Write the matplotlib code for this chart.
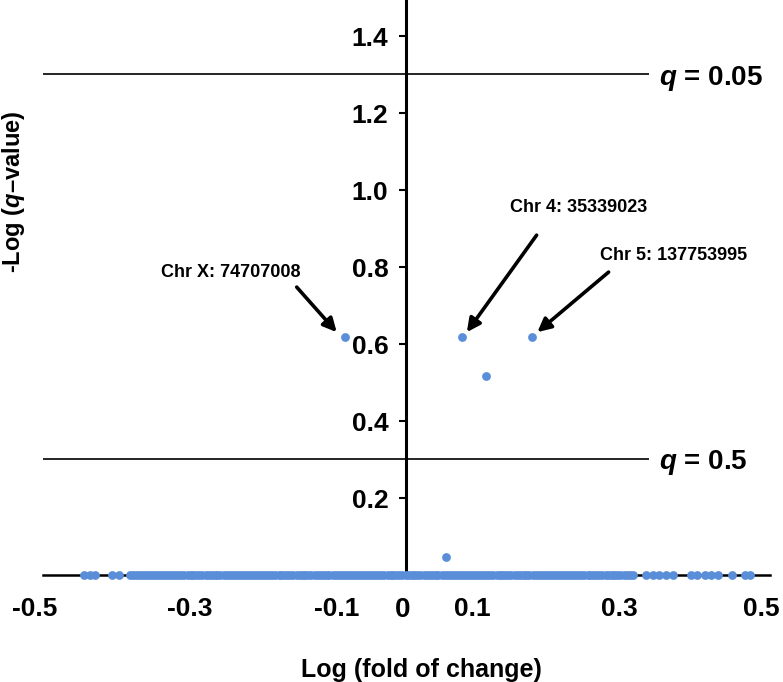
import matplotlib.pyplot as plt
import matplotlib.transforms as mtransforms
import numpy as np

plt.rcParams['font.family'] = ['Liberation Sans', 'DejaVu Sans']
plt.rcParams['mathtext.fontset'] = 'custom'
plt.rcParams['mathtext.it'] = 'Liberation Sans:bold:italic'
plt.rcParams['mathtext.rm'] = 'Liberation Sans:bold'

# points sitting on the baseline (-log q ~ 0)
base_x = [-0.444, -0.436, -0.428, -0.405, -0.396,
          -0.380, -0.372, -0.364, -0.356, -0.347, -0.339, -0.331, -0.322, -0.314,
          -0.306, -0.297, -0.289, -0.281, -0.272, -0.264, -0.256, -0.247, -0.239,
          -0.231, -0.222, -0.214, -0.206, -0.197, -0.189, -0.181, -0.172, -0.164,
          -0.156, -0.147, -0.139, -0.131, -0.122, -0.114, -0.106, -0.097, -0.089,
          -0.081, -0.072, -0.064, -0.056, -0.047, -0.039, -0.031, -0.022, -0.014,
          -0.006, 0.003, 0.011, 0.019, 0.028, 0.036, 0.044, 0.053, 0.061, 0.069,
          0.078, 0.086, 0.094, 0.103, 0.111, 0.119, 0.128, 0.136, 0.144, 0.153,
          0.161, 0.169, 0.178, 0.186, 0.194, 0.203, 0.211, 0.219, 0.228, 0.236,
          0.244, 0.253, 0.261, 0.269, 0.278, 0.286, 0.294, 0.303, 0.311,
          0.330, 0.339, 0.348, 0.357, 0.366,
          0.391, 0.400, 0.410, 0.419, 0.429,
          0.448, 0.466, 0.473,
          -0.376, -0.368, -0.360, -0.351, -0.343, -0.335, -0.326, -0.318, -0.310,
          -0.301, -0.293, -0.285, -0.276, -0.268, -0.260, -0.251, -0.243, -0.235,
          -0.226, -0.218, -0.210, -0.201, -0.193, -0.185, -0.176, -0.168, -0.160,
          -0.151, -0.143, -0.135, -0.126, -0.118, -0.110, -0.101, -0.093, -0.085,
          -0.076, -0.068, -0.060, -0.051, -0.043, -0.035, -0.026, -0.018, -0.010,
          -0.001, 0.007, 0.015, 0.024, 0.032, 0.040, 0.049, 0.057, 0.065, 0.074,
          0.082, 0.090, 0.099, 0.107, 0.115, 0.124, 0.132, 0.140, 0.149, 0.157,
          0.165, 0.174, 0.182, 0.190, 0.199, 0.207, 0.215, 0.224, 0.232, 0.240,
          0.249, 0.257, 0.265, 0.274, 0.282, 0.290, 0.299, 0.307]
base_y = [0.0] * len(base_x)

# points above the baseline
hit_x = [0.055, -0.084, 0.076, 0.109, 0.173]
hit_y = [0.047, 0.618, 0.618, 0.517, 0.618]

# thresholds
q_vals = ['0.05', '0.5']
q_lines = [-np.log10(0.05), -np.log10(0.5)]

xtick_vals = [-0.5, -0.3, -0.1, 0.1, 0.3, 0.5]
xtick_shift = [-8, 1, 3, -7, -5, -9]   # label nudges, px
ytick_vals = [0.2, 0.4, 0.6, 0.8, 1.0, 1.2, 1.4]

labels = ['Chr X: 74707008', 'Chr 4: 35339023', 'Chr 5: 137753995']
label_xy = [(-0.084, 0.618), (0.076, 0.618), (0.173, 0.618)]

dot_c = '#5A8ED8'

fig = plt.figure(figsize=(7.83, 6.82), dpi=100)
ax = fig.add_axes([0.0549, 0.1569, 0.9285, 0.8431])

ax.scatter(base_x, base_y, s=40, color=dot_c, zorder=4, clip_on=False, linewidths=0)
ax.scatter(hit_x, hit_y, s=40, color=dot_c, zorder=4, clip_on=False, linewidths=0)

ax.set_xlim(-0.5, 0.5)
ax.set_ylim(0, 1.494)

for sp in ['top', 'right']:
    ax.spines[sp].set_visible(False)
ax.spines['left'].set_position(('data', 0))
ax.spines['left'].set_linewidth(2.2)
ax.spines['bottom'].set_linewidth(1.8)

ax.set_xticks(xtick_vals, [f'{v:g}' for v in xtick_vals])
ax.set_xticks([-0.5, 0.5], minor=True)
ax.tick_params(axis='x', which='major', length=0, pad=16, labelsize=19)
ax.tick_params(axis='x', which='minor', length=7, width=1.8, direction='out')
for t, dx in zip(ax.get_xticklabels(), xtick_shift):
    t.set_fontweight('bold')
    t.set_transform(t.get_transform() + mtransforms.ScaledTranslation(dx / 100, 0, fig.dpi_scale_trans))
ax.text(-0.006, -0.091, '0', ha='center', va='center', fontsize=20,
        fontweight='bold')

ax.set_yticks(ytick_vals, [f'{v:.1f}' for v in ytick_vals])
ax.tick_params(axis='y', length=5, width=1.5, pad=8, labelsize=19)
for t in ax.get_yticklabels():
    t.set_fontweight('bold')

for qv, qy in zip(q_vals, q_lines):
    ax.hlines(qy, -0.5, 0.334, color='black', lw=1.2, zorder=2)
    ax.text(0.348, qy - 0.01, f'$q$ = {qv}', fontsize=20, fontweight='bold',
            ha='left', va='center')

text_pos = [(-0.242, 0.785), (0.237, 0.956), (0.367, 0.831)]
tail_pos = [(-0.151, 0.748), (0.179, 0.883), (0.278, 0.787)]
for lab, pt, tp, tl in zip(labels, label_xy, text_pos, tail_pos):
    ax.text(tp[0], tp[1], lab, fontsize=13, fontweight='bold',
            ha='center', va='center')
    tip = (pt[0] - 0.012 if pt[0] < 0 else pt[0] + 0.007, pt[1] + 0.013)
    ax.annotate('', xy=tip, xytext=tl,
                arrowprops=dict(arrowstyle='-|>', color='black', lw=2.6,
                                mutation_scale=20, shrinkA=0, shrinkB=0))

ax.set_xlabel('Log (fold of change)', fontsize=18, fontweight='bold')
ax.xaxis.set_label_coords(0.52, -0.145)
ax.set_ylabel('-Log ($q$–value)', fontsize=17, fontweight='bold')
ax.yaxis.set_label_coords(-0.022, 0.666)

fig.savefig('out.png', dpi=100)
